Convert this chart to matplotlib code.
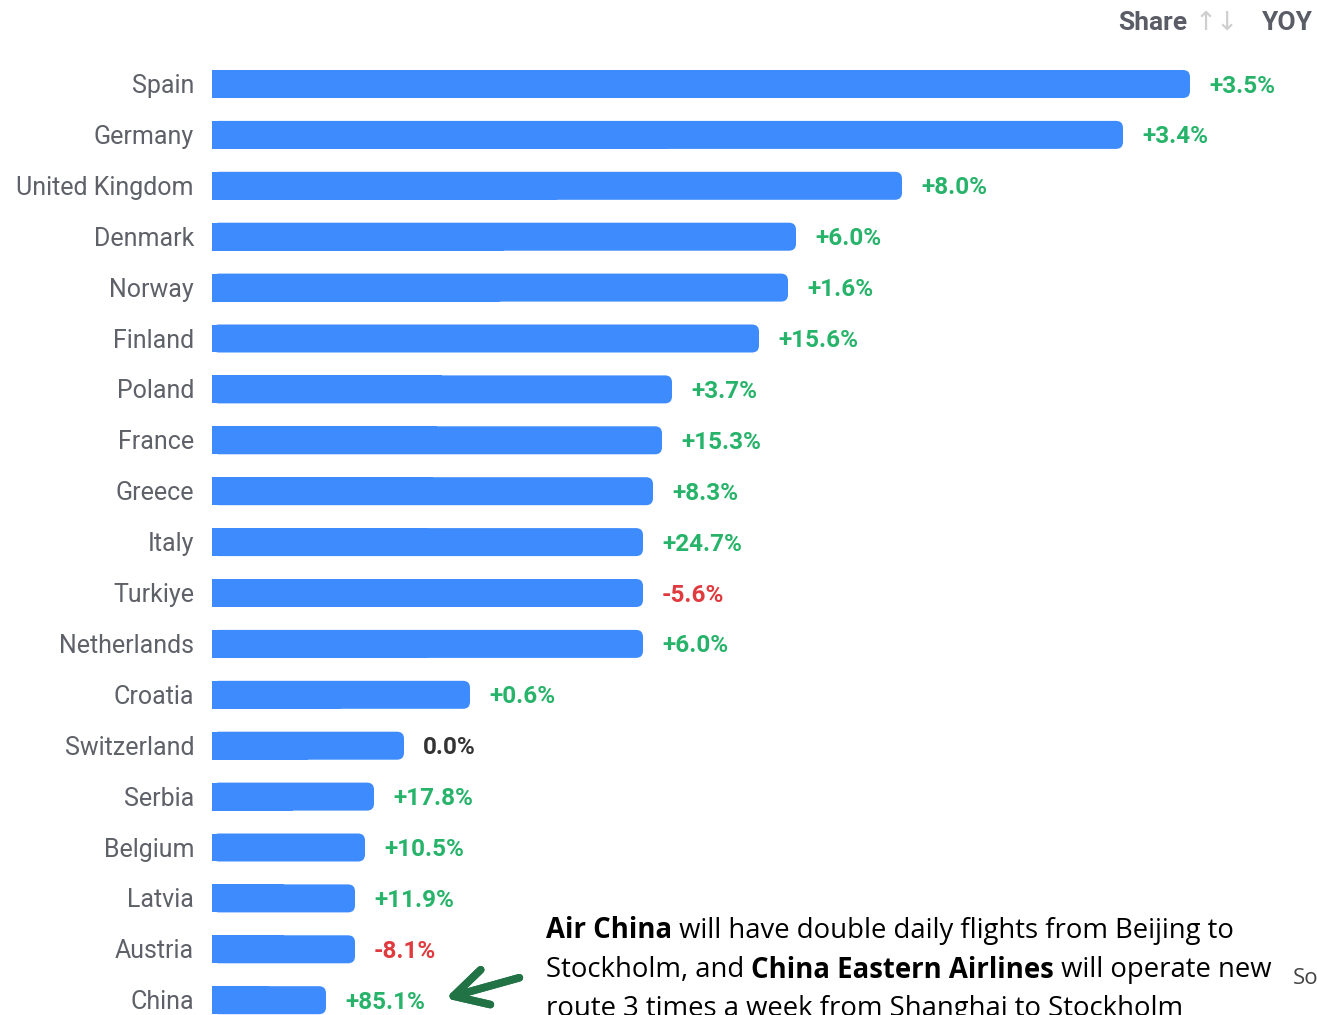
import matplotlib.pyplot as plt
from matplotlib.patches import FancyBboxPatch

# country shares (bar lengths) and year-over-year change
countries = ["Spain", "Germany", "United Kingdom", "Denmark", "Norway", "Finland",
             "Poland", "France", "Greece", "Italy", "Turkiye", "Netherlands",
             "Croatia", "Switzerland", "Serbia", "Belgium", "Latvia", "Austria", "China"]
share = [9.78, 9.11, 6.90, 5.84, 5.76, 5.47, 4.60, 4.50, 4.41, 4.31, 4.31, 4.31,
         2.58, 1.92, 1.62, 1.53, 1.43, 1.43, 1.14]
yoy = [3.5, 3.4, 8.0, 6.0, 1.6, 15.6, 3.7, 15.3, 8.3, 24.7, -5.6, 6.0,
       0.6, 0.0, 17.8, 10.5, 11.9, -8.1, 85.1]

BAR = "#3d8bfd"
GREEN = "#27b36a"
RED = "#e0393e"
LABEL = "#5f6169"

W, H = 1317, 1015
fig = plt.figure(figsize=(W / 100, H / 100), dpi=100)
plt.rcParams['font.family'] = ['Roboto', 'DejaVu Sans']

# axes from x=212px to right edge, full height
ax = fig.add_axes([212 / W, 0, 1 - 212 / W, 1])
ax.set_xlim(0, (W - 212) / 100)
step = 50.9
ax.set_ylim((H - 84) / step, -84 / step)
ax.axis("off")

bar_h = 0.55
aspect = (1 / step) / (1 / 100)
for i, (c, v, d) in enumerate(zip(countries, share, yoy)):
    # rounded bar end, square left side
    p = FancyBboxPatch((0, i - bar_h / 2), v, bar_h,
                       boxstyle="round,pad=0,rounding_size=0.07",
                       mutation_aspect=aspect, fc=BAR, ec="none", clip_on=False)
    ax.add_patch(p)
    ax.barh(i, v / 2, height=bar_h, color=BAR, left=0)
    ax.text(-0.18, i + 0.04, c, ha="right", va="center", fontsize=18, color=LABEL)
    if d > 0:
        txt, col = f"+{d:.1f}%", GREEN
    elif d < 0:
        txt, col = f"{d:.1f}%", RED
    else:
        txt, col = f"{d:.1f}%", "#333333"
    ax.text(v + 0.19, i + 0.04, txt, ha="left", va="center", fontsize=17.5,
            fontweight="bold", color=col)

# header
fig.text(1187 / W, 1 - 23 / H, "Share", ha="right", va="center", fontsize=19,
         fontweight="bold", color="#5a5d66")
fig.text(1195 / W, 1 - 23 / H, "↑↓", ha="left", va="center", fontsize=19,
         color="#cfcfcf", family=["DejaVu Sans"])
fig.text(1262 / W, 1 - 23 / H, "YOY", ha="left", va="center", fontsize=19,
         fontweight="bold", color="#5a5d66")

# annotation with mixed bold text
lines = [
    [("Air China", "bold"), (" will have double daily flights from Beijing to", "normal")],
    [("Stockholm, and ", "normal"), ("China Eastern Airlines", "bold"), (" will operate new", "normal")],
    [("route 3 times a week from Shanghai to Stockholm", "normal")],
]
renderer = fig.canvas.get_renderer()
y0 = 931
for parts in lines:
    x = 546
    for s, wt in parts:
        t = fig.text(x / W, 1 - y0 / H, s, ha="left", va="center", fontsize=19.8,
                     fontweight=wt, color="black", family=["Open Sans", "DejaVu Sans"])
        bb = t.get_window_extent(renderer=renderer)
        x = bb.x1
    y0 += 39

fig.text(1293 / W, 1 - 978 / H, "Source", ha="left", va="center", fontsize=16,
         color="#444444", family=["Open Sans", "DejaVu Sans"])

# green arrow pointing at China
fig.add_artist(plt.annotate("", xy=(443 / W, 1 - 999 / H), xytext=(522 / W, 1 - 977 / H),
                            xycoords="figure fraction", textcoords="figure fraction",
                            arrowprops=dict(arrowstyle="->,head_length=2.4,head_width=1.3",
                                            color="#217346", lw=5.5)))

fig.savefig("out.png", dpi=100)
